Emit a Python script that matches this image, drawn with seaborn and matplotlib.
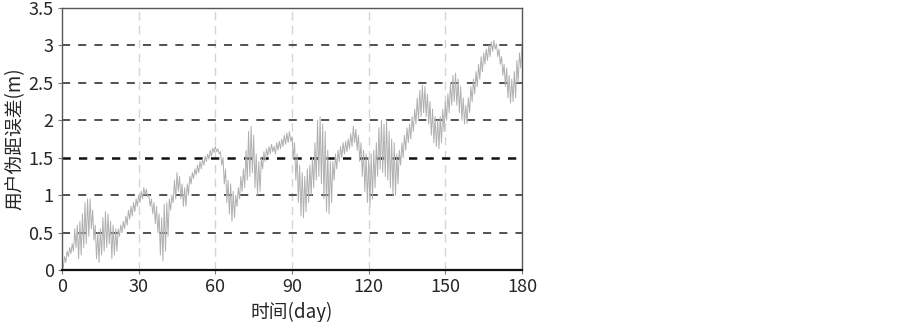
import numpy as np
import pandas as pd
import seaborn as sns
from matplotlib import pyplot as plt

# day index and upper / lower envelope of the error trace
days = list(range(0, 181))
hi = [0.08, 0.18, 0.25, 0.30, 0.35, 0.55, 0.60, 0.65, 0.75, 0.90,
      0.95, 0.95, 0.80, 0.60, 0.50, 0.55, 0.70, 0.78, 0.75, 0.65,
      0.60, 0.55, 0.55, 0.60, 0.65, 0.72, 0.80, 0.85, 0.90, 0.95,
      1.00, 1.05, 1.10, 1.08, 1.00, 0.95, 0.90, 0.85, 0.75, 0.70,
      0.88, 0.90, 0.95, 1.00, 1.20, 1.30, 1.25, 1.15, 1.10, 1.15,
      1.25, 1.30, 1.35, 1.40, 1.45, 1.48, 1.52, 1.55, 1.60, 1.63,
      1.65, 1.62, 1.58, 1.50, 1.35, 1.20, 1.15, 1.05, 1.00, 1.10,
      1.25, 1.35, 1.60, 1.85, 1.92, 1.80, 1.55, 1.45, 1.50, 1.58,
      1.62, 1.65, 1.68, 1.65, 1.70, 1.72, 1.75, 1.80, 1.83, 1.85,
      1.78, 1.70, 1.55, 1.40, 1.30, 1.25, 1.35, 1.40, 1.50, 1.70,
      2.00, 2.05, 1.95, 1.85, 1.60, 1.45, 1.45, 1.55, 1.60, 1.65,
      1.70, 1.72, 1.75, 1.82, 1.92, 1.88, 1.80, 1.70, 1.60, 1.55,
      1.50, 1.55, 1.60, 1.70, 1.90, 2.00, 1.95, 2.00, 1.85, 1.75,
      1.70, 1.55, 1.60, 1.70, 1.80, 1.90, 1.95, 2.05, 2.15, 2.30,
      2.40, 2.47, 2.45, 2.35, 2.25, 2.15, 2.05, 2.00, 2.05, 2.15,
      2.25, 2.35, 2.50, 2.60, 2.63, 2.55, 2.45, 2.30, 2.20, 2.30,
      2.45, 2.55, 2.65, 2.75, 2.85, 2.90, 2.95, 3.00, 3.05, 3.07,
      3.02, 2.95, 2.85, 2.75, 2.70, 2.60, 2.55, 2.65, 2.80, 2.90,
      3.00]
lo = [0.03, 0.10, 0.18, 0.22, 0.25, 0.30, 0.15, 0.20, 0.30, 0.35,
      0.45, 0.55, 0.40, 0.15, 0.10, 0.20, 0.25, 0.30, 0.35, 0.15,
      0.20, 0.25, 0.45, 0.50, 0.55, 0.60, 0.68, 0.72, 0.78, 0.85,
      0.90, 0.95, 1.00, 0.98, 0.85, 0.75, 0.62, 0.50, 0.20, 0.12,
      0.25, 0.45, 0.80, 0.90, 0.95, 1.05, 0.95, 0.85, 0.85, 1.00,
      1.15, 1.22, 1.27, 1.30, 1.35, 1.40, 1.45, 1.48, 1.52, 1.57,
      1.58, 1.55, 1.40, 1.15, 0.90, 0.75, 0.65, 0.70, 0.85, 0.95,
      1.05, 1.10, 1.20, 1.25, 1.30, 1.10, 1.00, 1.05, 1.35, 1.45,
      1.52, 1.55, 1.58, 1.55, 1.60, 1.62, 1.65, 1.68, 1.70, 1.72,
      1.50, 1.20, 0.90, 0.72, 0.70, 0.78, 0.90, 1.00, 1.10, 1.20,
      1.25, 1.15, 0.95, 0.78, 0.75, 0.90, 1.20, 1.35, 1.45, 1.50,
      1.55, 1.58, 1.62, 1.65, 1.70, 1.60, 1.45, 1.25, 1.05, 0.90,
      0.84, 0.95, 1.10, 1.25, 1.35, 1.30, 1.25, 1.20, 1.10, 1.00,
      1.00, 1.15, 1.40, 1.50, 1.60, 1.70, 1.75, 1.85, 1.95, 2.00,
      2.05, 2.10, 2.05, 1.95, 1.80, 1.70, 1.65, 1.62, 1.70, 1.85,
      2.00, 2.10, 2.20, 2.25, 2.20, 2.10, 2.00, 1.95, 1.96, 2.10,
      2.25, 2.35, 2.45, 2.55, 2.65, 2.75, 2.80, 2.85, 2.92, 2.95,
      2.85, 2.75, 2.60, 2.45, 2.30, 2.23, 2.25, 2.30, 2.50, 2.70,
      2.90]

x_ticks = [0, 30, 60, 90, 120, 150, 180]
y_ticks = [0, 0.5, 1, 1.5, 2, 2.5, 3, 3.5]
y_tick_labels = ['0', '0.5', '1', '1.5', '2', '2.5', '3', '3.5']

# alternate upper / lower values within each day so the trace zig-zags
t = []
v = []
for d, a, b in zip(days, hi, lo):
    t += [d, d + 0.5]
    v += [a, b]
df = pd.DataFrame({'day': t, 'err': v})
df = df[df['day'] <= 180]

sns.set_style('white')
plt.rcParams['font.family'] = ['Noto Sans CJK SC', 'DejaVu Sans']

fig = plt.figure(figsize=(9.03, 3.22), dpi=100)
ax = fig.add_axes([62 / 903, 1 - 270 / 322, 460 / 903, 262 / 322])

# grid first so the trace sits on top
for xv in x_ticks[1:-1]:
    ax.axvline(xv, color='#d4d4d4', lw=1.0, ls=(0, (6, 4)), zorder=1)
for yv in y_ticks[1:-1]:
    if yv == 1.5:
        ax.axhline(yv, color='#111111', lw=1.8, ls=(0, (3.3, 3.3)), zorder=1)
    else:
        ax.axhline(yv, color='#222222', lw=1.1, ls=(0, (5.3, 5.3)), zorder=1)

sns.lineplot(data=df, x='day', y='err', ax=ax, color='#b0b0b0', lw=0.7,
             estimator=None, sort=False, zorder=2)

ax.set_xlim(0, 180)
ax.set_ylim(0, 3.5)
ax.set_xticks(x_ticks)
ax.set_yticks(y_ticks)
ax.set_yticklabels(y_tick_labels)
ax.tick_params(length=3, width=0.8, color='#777777', direction='out',
               labelsize=13, pad=3, bottom=True, left=True)
ax.set_xlabel('时间(day)', fontsize=13.5, labelpad=4)
ax.set_ylabel('用户伪距误差(m)', fontsize=13.5, labelpad=2)

for side in ['top', 'right', 'left']:
    ax.spines[side].set_color('#555555')
    ax.spines[side].set_linewidth(1.0)
ax.spines['bottom'].set_color('#111111')
ax.spines['bottom'].set_linewidth(1.6)

fig.savefig('out.png', dpi=100)
